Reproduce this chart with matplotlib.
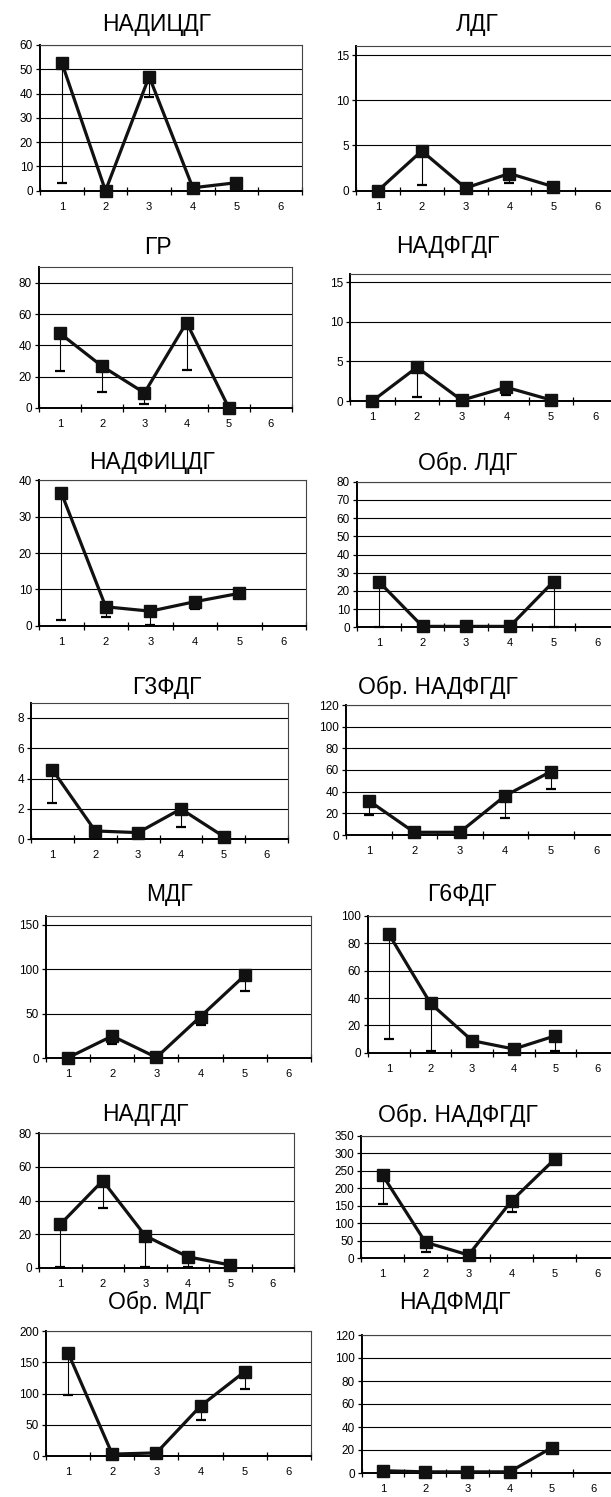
import matplotlib
matplotlib.use("Agg")
import matplotlib.pyplot as plt
import numpy as np

plt.rcParams['font.family'] = ['Liberation Sans', 'DejaVu Sans']

# --- data ---
titles = ["НАДИЦДГ", "ЛДГ", "ГР", "НАДФГДГ", "НАДФИЦДГ", "Обр. ЛДГ",
          "Г3ФДГ", "Обр. НАДФГДГ", "МДГ", "Г6ФДГ", "НАДГДГ", "Обр. НАДФГДГ",
          "Обр. МДГ", "НАДФМДГ"]
groups = [1, 2, 3, 4, 5]
cat_labels = ["1", "2", "3", "4", "5", "6"]

means = [
    [52.7, 0.0, 47.0, 1.2, 3.3],
    [0.0, 4.4, 0.3, 1.9, 0.45],
    [47.6, 26.5, 9.5, 54.6, 0.0],
    [0.0, 4.26, 0.1, 1.73, 0.13],
    [36.6, 5.2, 4.0, 6.6, 8.9],
    [25.1, 0.5, 0.5, 0.5, 25.1],
    [4.58, 0.55, 0.44, 2.0, 0.18],
    [31.7, 2.5, 2.5, 36.3, 58.5],
    [0.7, 25.0, 1.0, 46.9, 93.0],
    [86.8, 36.1, 8.8, 2.7, 12.4],
    [25.8, 51.8, 19.0, 6.5, 1.6],
    [237.8, 45.7, 9.5, 163.6, 282.5],
    [165.0, 3.0, 5.0, 80.0, 135.0],
    [2.0, 1.0, 1.0, 1.0, 22.0],
]
lows = [
    [3.3, 0.0, 38.7, 1.2, 3.3],
    [0.0, 0.6, 0.3, 0.9, 0.45],
    [23.5, 10.2, 2.3, 24.3, 0.0],
    [0.0, 0.55, 0.1, 0.76, 0.13],
    [1.6, 2.3, 0.2, 4.5, 8.9],
    [0.0, 0.5, 0.5, 0.5, 0.0],
    [2.4, 0.55, 0.44, 0.84, 0.18],
    [18.5, 2.5, 2.5, 16.0, 42.2],
    [0.7, 15.7, 1.0, 37.5, 75.7],
    [9.8, 1.0, 8.8, 2.7, 1.2],
    [0.2, 35.3, 0.2, 0.6, 1.6],
    [156.0, 18.0, 9.5, 131.0, 282.5],
    [97.0, 3.0, 5.0, 58.0, 107.0],
    [2.0, 1.0, 1.0, 1.0, 22.0],
]
ymax = [60, 16, 90, 16, 40, 80, 9, 120, 160, 100, 80, 350, 200, 120]
ystep = [10, 5, 20, 5, 10, 10, 2, 20, 50, 20, 20, 50, 50, 20]

# --- layout in pixels: left, right, top, bottom of plot area; title centre ---
W, H = 611, 1497
boxes = [
    (40, 302, 45, 190.7), (356, 619, 46, 190.7),
    (39, 292, 267.3, 407.7), (350, 618, 274.3, 401),
    (39, 306, 480.3, 625.7), (357, 619, 481.7, 627.3),
    (31, 288, 702.7, 839.3), (346, 619, 705, 835),
    (46, 311, 915.7, 1058.3), (368, 618, 916, 1052.7),
    (39, 294, 1133.3, 1267.7), (361, 619, 1135.7, 1258.3),
    (46, 311, 1331, 1456), (362, 615, 1335, 1473),
]
title_pos = [
    (157, 25), (477, 25), (158, 248), (448, 247), (152, 463), (468, 463),
    (167, 688), (438, 687), (170, 895), (462, 895), (145, 1115), (458, 1115),
    (160, 1302), (455, 1302),
]

fig = plt.figure(figsize=(W / 100, H / 100), dpi=100)

for i in range(len(titles)):
    L, R, T, B = boxes[i]
    ax = fig.add_axes([L / W, 1 - B / H, (R - L) / W, (B - T) / H])
    m = np.array(means[i])
    lo = m - np.array(lows[i])
    ax.errorbar(groups, m, yerr=[lo, np.zeros_like(lo)], fmt='none',
                ecolor='black', elinewidth=0.8, capsize=3.5, capthick=1.6,
                zorder=3, clip_on=False)
    ax.plot(groups, m, color='#111111', lw=2.3, marker='s', ms=8.5,
            mfc='#111111', mec='#111111', zorder=4, clip_on=False)

    ax.set_xlim(0.5, 6.5)
    ax.set_ylim(0, ymax[i])
    ax.set_yticks(np.arange(0, ymax[i] + 0.01, ystep[i]))
    ax.yaxis.grid(True, color='black', lw=0.8)
    ax.set_axisbelow(True)

    ax.set_xticks(np.arange(0.5, 7, 1))
    ax.set_xticklabels([])
    ax.set_xticks(range(1, 7), minor=True)
    ax.set_xticklabels(cat_labels, minor=True)
    ax.tick_params(axis='x', which='major', direction='inout', length=6, width=0.9)
    ax.tick_params(axis='x', which='minor', length=0, pad=8, labelsize=8)
    ax.tick_params(axis='y', direction='out', length=3, width=0.9, pad=2, labelsize=8.5)

    for s in ['left', 'bottom']:
        ax.spines[s].set_linewidth(1.4)
    for s in ['top', 'right']:
        ax.spines[s].set_linewidth(0.8)
        ax.spines[s].set_color('#444444')

    tx, ty = title_pos[i]
    fig.text(tx / W, 1 - ty / H, titles[i], ha='center', va='center', fontsize=16.5)

fig.savefig("out.png", dpi=100)
